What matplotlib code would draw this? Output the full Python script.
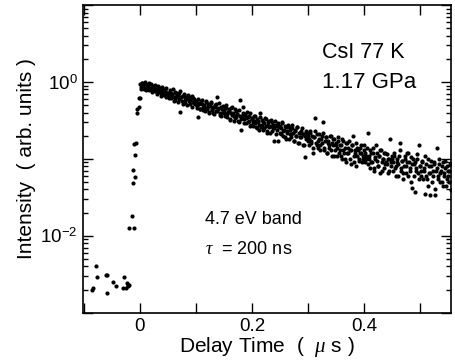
import numpy as np
import matplotlib
matplotlib.use("Agg")
import matplotlib.pyplot as plt
from matplotlib.ticker import LogLocator, FixedLocator, FuncFormatter, NullFormatter

plt.rcParams['font.family'] = ['Liberation Sans', 'DejaVu Sans']
plt.rcParams['mathtext.fontset'] = 'custom'
plt.rcParams['mathtext.rm'] = 'Liberation Sans'
plt.rcParams['mathtext.it'] = 'Liberation Serif:italic'

# ---- data (delay in microseconds, intensity in arb. units) ----
pre_t = [-0.085, -0.083, -0.078, -0.076, -0.061, -0.058, -0.059, -0.048,
         -0.043, -0.029, -0.030, -0.025, -0.023, -0.021, -0.020, -0.022]
pre_y = [2.0e-3, 2.1e-3, 4.1e-3, 2.9e-3, 3.1e-3, 3.1e-3, 1.8e-3, 2.5e-3,
         2.2e-3, 2.9e-3, 2.1e-3, 2.1e-3, 2.4e-3, 2.3e-3, 2.3e-3, 2.2e-3]

rise_t = [-0.019, -0.011, -0.014, -0.012, -0.009, -0.013, -0.008, -0.010,
          -0.007, -0.005, -0.005, -0.002, -0.001, 0.000]
rise_y = [0.0126, 0.0126, 0.018, 0.048, 0.059, 0.071, 0.114, 0.155,
          0.16, 0.39, 0.45, 0.47, 0.62, 0.62]

sample_step = 0.002  # microseconds between samples of each decay record
# record A starts at 0.000 us, record B at 0.001 us
decay_a = [
    0.93, 0.80, 0.98, 0.85, 0.92, 0.78, 0.88, 0.95, 0.79, 0.84, 0.93, 0.74, 0.83,
    0.77, 0.87, 0.69, 0.81, 0.75, 0.84, 0.66, 0.76, 0.71, 0.80, 0.64, 0.73,
    0.72, 0.61, 0.78, 0.66, 0.70, 0.57, 0.74, 0.63, 0.68, 0.55, 0.71, 0.41, 0.64,
    0.52, 0.67, 0.58, 0.62, 0.50, 0.64, 0.56, 0.59, 0.48, 0.61, 0.53, 0.57,
    0.55, 0.46, 0.35, 0.52, 0.44, 0.58, 0.47, 0.50, 0.42, 0.55, 0.45, 0.49, 0.40,
    0.53, 0.43, 0.47, 0.38, 0.50, 0.42, 0.64, 0.44, 0.37, 0.48, 0.40, 0.45,
    0.43, 0.36, 0.50, 0.38, 0.42, 0.33, 0.46, 0.37, 0.40, 0.31, 0.44, 0.35, 0.38,
    0.30, 0.59, 0.24, 0.36, 0.48, 0.33, 0.38, 0.29, 0.35, 0.31, 0.40, 0.28,
    0.34, 0.27, 0.31, 0.36, 0.25, 0.30, 0.28, 0.39, 0.26, 0.32, 0.24, 0.29, 0.33,
    0.23, 0.28, 0.31, 0.22, 0.27, 0.30, 0.25, 0.17, 0.28, 0.24, 0.17, 0.26,
    0.27, 0.21, 0.30, 0.23, 0.19, 0.26, 0.22, 0.28, 0.18, 0.24, 0.21, 0.25, 0.17,
    0.23, 0.20, 0.26, 0.16, 0.22, 0.19, 0.23, 0.15, 0.21, 0.105, 0.18, 0.22,
    0.20, 0.15, 0.23, 0.17, 0.12, 0.19, 0.34, 0.16, 0.21, 0.14, 0.18, 0.15, 0.20,
    0.30, 0.13, 0.17, 0.19, 0.12, 0.16, 0.14, 0.20, 0.11, 0.15, 0.18, 0.13,
    0.16, 0.11, 0.19, 0.13, 0.15, 0.10, 0.17, 0.12, 0.14, 0.09, 0.16, 0.12, 0.13,
    0.085, 0.15, 0.20, 0.11, 0.13, 0.08, 0.14, 0.10, 0.12, 0.15, 0.09, 0.11,
    0.13, 0.09, 0.11, 0.22, 0.10, 0.075, 0.12, 0.09, 0.14, 0.07, 0.10, 0.12, 0.08,
    0.11, 0.065, 0.13, 0.09, 0.10, 0.075, 0.12, 0.085, 0.10, 0.07, 0.18, 0.09,
    0.10, 0.07, 0.12, 0.08, 0.09, 0.06, 0.11, 0.16, 0.075, 0.095, 0.065, 0.10,
    0.08, 0.12, 0.06, 0.09, 0.07, 0.105, 0.042, 0.085, 0.037, 0.075, 0.10, 0.065,
    0.15,
    0.08, 0.06, 0.095, 0.07, 0.035, 0.085, 0.055, 0.10, 0.065, 0.034, 0.08, 0.06,
    0.09, 0.034, 0.07, 0.14, 0.055, 0.085, 0.065, 0.05, 0.09, 0.06, 0.075, 0.045,
    0.08, 0.06, 0.07, 0.039,
]
decay_b = [
    0.87, 0.96, 0.90, 0.82, 0.99, 0.86, 0.80, 0.91, 0.97, 0.83, 0.78, 0.89, 0.85,
    0.92, 0.76, 0.81, 0.88, 0.79, 0.72, 0.86, 0.82, 0.68, 0.77, 0.84, 0.70,
    0.66, 0.75, 0.62, 0.69, 0.80, 0.64, 0.58, 0.71, 0.67, 0.60, 0.76, 0.63, 0.57,
    0.66, 0.70, 0.54, 0.61, 0.68, 0.59, 0.52, 0.63, 0.66, 0.55, 0.60, 0.51,
    0.49, 0.60, 0.53, 0.45, 0.56, 0.51, 0.43, 0.48, 0.57, 0.46, 0.52, 0.41, 0.49,
    0.55, 0.44, 0.39, 0.47, 0.51, 0.42, 0.46, 0.53, 0.40, 0.36, 0.45, 0.49,
    0.40, 0.46, 0.35, 0.41, 0.44, 0.32, 0.39, 0.47, 0.36, 0.34, 0.42, 0.38, 0.31,
    0.43, 0.36, 0.33, 0.40, 0.29, 0.37, 0.34, 0.41, 0.30, 0.36, 0.27, 0.33,
    0.30, 0.36, 0.29, 0.26, 0.33, 0.31, 0.24, 0.35, 0.28, 0.30, 0.25, 0.34, 0.27,
    0.22, 0.30, 0.26, 0.32, 0.23, 0.28, 0.25, 0.31, 0.21, 0.27, 0.29, 0.22,
    0.25, 0.29, 0.20, 0.24, 0.27, 0.18, 0.23, 0.26, 0.21, 0.19, 0.28, 0.22, 0.17,
    0.24, 0.20, 0.26, 0.16, 0.22, 0.19, 0.25, 0.21, 0.15, 0.20, 0.23, 0.17,
    0.18, 0.22, 0.16, 0.20, 0.14, 0.19, 0.23, 0.15, 0.17, 0.21, 0.13, 0.18, 0.16,
    0.22, 0.14, 0.19, 0.12, 0.17, 0.15, 0.20, 0.13, 0.16, 0.18, 0.11, 0.15,
    0.14, 0.17, 0.12, 0.15, 0.11, 0.18, 0.13, 0.10, 0.16, 0.12, 0.14, 0.17, 0.10,
    0.13, 0.15, 0.09, 0.12, 0.16, 0.11, 0.13, 0.095, 0.14, 0.12, 0.10, 0.15,
    0.12, 0.10, 0.14, 0.085, 0.11, 0.13, 0.09, 0.12, 0.075, 0.105, 0.15, 0.095,
    0.08, 0.11, 0.13, 0.07, 0.10, 0.12, 0.085, 0.09, 0.115, 0.065, 0.10, 0.08, 0.11,
    0.09, 0.11, 0.075, 0.06, 0.10, 0.085, 0.13, 0.07, 0.095, 0.055, 0.08, 0.11,
    0.065, 0.09, 0.12, 0.075, 0.05, 0.085, 0.10, 0.06, 0.09, 0.07, 0.115, 0.055,
    0.08,
    0.07, 0.09, 0.055, 0.075, 0.11, 0.06, 0.045, 0.08, 0.065, 0.095, 0.05, 0.07,
    0.085, 0.04, 0.075, 0.06, 0.10, 0.05, 0.07, 0.08, 0.045, 0.065, 0.095, 0.055,
    0.07, 0.05, 0.085,
]
decay_a_t = np.arange(len(decay_a)) * sample_step
decay_b_t = 0.001 + np.arange(len(decay_b)) * sample_step

xticks = [-0.1, 0.0, 0.1, 0.2, 0.3, 0.4, 0.5]
xlabels_shown = {0.0: "0", 0.2: "0.2", 0.4: "0.4"}

fig = plt.figure(figsize=(4.56, 3.64), dpi=100)
ax = fig.add_axes([0.182, 0.141, 0.806, 0.845])

all_t = np.concatenate([pre_t, rise_t, decay_a_t, decay_b_t])
all_y = np.concatenate([pre_y, rise_y, decay_a, decay_b])
ax.plot(all_t, all_y, 'o', color='black', ms=3.0, mec='none')

ax.set_yscale('log')
ax.set_xlim(-0.1016, 0.554)
ax.set_ylim(1e-3, 1e1)

ax.xaxis.set_major_locator(FixedLocator(xticks))
ax.xaxis.set_major_formatter(FuncFormatter(
    lambda v, p: xlabels_shown.get(round(v, 1), "")))

ax.yaxis.set_major_locator(LogLocator(base=10, numticks=10))
ax.yaxis.set_minor_locator(LogLocator(base=10, subs=np.arange(2, 10), numticks=20))
def yfmt(v, p):
    e = int(round(np.log10(v)))
    if e in (0, -2):
        return r"$10^{%d}$" % e
    return ""
ax.yaxis.set_major_formatter(FuncFormatter(yfmt))
ax.yaxis.set_minor_formatter(NullFormatter())

ax.tick_params(which='both', direction='in', top=True, right=True,
               labelsize=13.5, width=1.0)
ax.tick_params(which='major', length=7.5, pad=4)
ax.tick_params(which='minor', length=3.5)
ax.tick_params(axis='x', which='minor', bottom=False, top=False)
for s in ax.spines.values():
    s.set_linewidth(1.2)

ax.set_xlabel(r"Delay Time  (  $\mu$ s )", fontsize=15, labelpad=0)
ax.set_ylabel("Intensity  ( arb. units )", fontsize=15, labelpad=3)

ax.text(322, 364 - 52, "CsI 77 K", transform=None, fontsize=15.5,
        va='center', ha='left')
ax.text(322, 364 - 83, "1.17 GPa", transform=None, fontsize=16,
        va='center', ha='left')
ax.text(205, 364 - 219, "4.7 eV band", transform=None, fontsize=13,
        va='center', ha='left')
ax.text(205, 364 - 250, r"$\tau$  = 200 ns", transform=None, fontsize=13,
        va='center', ha='left')

fig.savefig("out.png", dpi=100)
